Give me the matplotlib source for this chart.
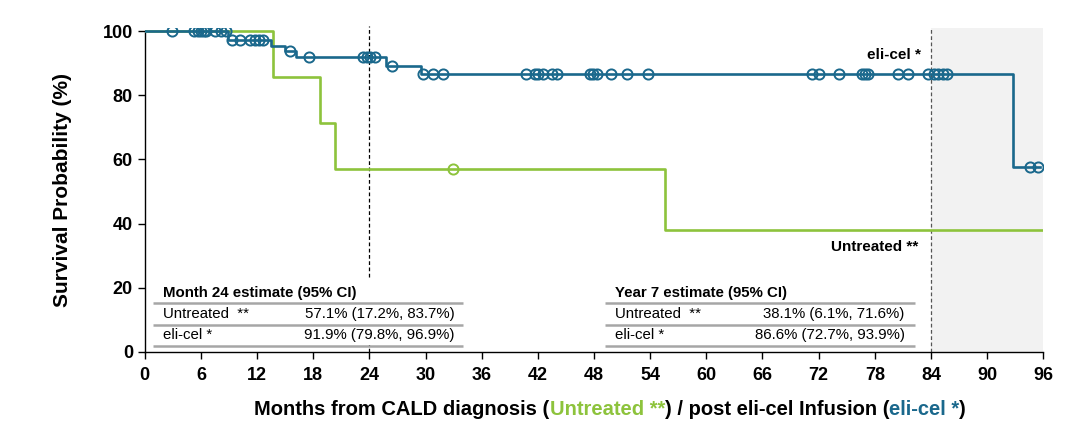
import numpy as np
import matplotlib
matplotlib.use('Agg')
import matplotlib.pyplot as plt
from matplotlib import font_manager
from matplotlib.offsetbox import TextArea, HPacker, AnnotationBbox
from matplotlib.patches import Rectangle

# フォント
names = {f.name for f in font_manager.fontManager.ttflist}
base_font = 'Liberation Sans' if 'Liberation Sans' in names else 'DejaVu Sans'
plt.rcParams['font.family'] = [base_font, 'DejaVu Sans']

blue = '#1a688c'
green = '#8dc33c'

# eli-cel: ステップ（イベント時刻と生存率）
eli_times = [0, 8.9, 13.5, 15.0, 16.2, 25.8, 29.5, 92.8]
eli_surv = [100, 97.3, 95.5, 93.7, 91.9, 89.2, 86.6, 57.7]
eli_end = 95.7
eli_censor = [2.9, 5.3, 5.7, 6.0, 6.3, 6.6, 7.5, 8.2, 8.7,
              9.3, 10.2, 11.2, 11.8, 12.2, 12.6,
              15.5, 17.6, 23.3, 23.7, 24.1, 24.6, 26.4,
              29.7, 30.8, 31.9, 40.7, 41.7, 42.0, 42.6, 43.5, 44.0,
              47.6, 47.9, 48.3, 49.8, 51.5, 53.8,
              71.3, 72.0, 74.2, 76.6, 77.0, 77.3, 80.5, 81.6,
              83.7, 84.3, 84.8, 85.3, 85.7, 94.6, 95.4]

# 未治療
unt_times = [0, 13.7, 18.7, 20.3, 55.6]
unt_surv = [100, 85.7, 71.4, 57.1, 38.1]
unt_end = 96
unt_censor = [32.9]

# 表
tab1_title = 'Month 24 estimate (95% CI)'
tab1_rows = [('Untreated  **', '57.1% (17.2%, 83.7%)'), ('eli-cel *', '91.9% (79.8%, 96.9%)')]
tab2_title = 'Year 7 estimate (95% CI)'
tab2_rows = [('Untreated  **', '38.1% (6.1%, 71.6%)'), ('eli-cel *', '86.6% (72.7%, 93.9%)')]

xticks = np.arange(0, 97, 6)
yticks = np.arange(0, 101, 20)


def surv_at(times, surv, t):
    idx = np.searchsorted(times, t, side='right') - 1
    return np.array(surv)[idx]


fig = plt.figure(figsize=(10.8, 4.23), dpi=100)
ax = fig.add_axes([0.134, 0.168, 0.832, 0.766])
ax.set_xlim(0, 96)
ax.set_ylim(0, 101)

# 84か月以降の灰色領域
ax.axvspan(84, 96, color='#f2f2f2', zorder=0, lw=0)

# 破線
ax.plot([24, 24], [0, 101.5], ls=(0, (3, 2)), color='black', lw=0.9, zorder=1, clip_on=False)
ax.plot([84, 84], [0, 101], ls=(0, (3, 2)), color='#555555', lw=0.9, zorder=1)

# ステップ曲線
ut = list(unt_times) + [unt_end]
us = list(unt_surv) + [unt_surv[-1]]
ax.step(ut, us, where='post', color=green, lw=1.9, zorder=3)
uc = surv_at(unt_times, unt_surv, unt_censor)
ax.plot(unt_censor, uc, 'o', mfc='none', mec=green, mew=1.4, ms=7.3, zorder=4)

et = list(eli_times) + [eli_end]
es = list(eli_surv) + [eli_surv[-1]]
ax.step(et, es, where='post', color=blue, lw=1.9, zorder=5)
ec = surv_at(eli_times, eli_surv, eli_censor)
ax.plot(eli_censor, ec, 'o', mfc='none', mec=blue, mew=1.4, ms=7.3, zorder=6)

# 曲線ラベル
ax.text(82.9, 92.6, 'eli-cel *', fontsize=11, fontweight='bold', ha='right', va='center')
ax.text(82.7, 32.7, 'Untreated **', fontsize=11, fontweight='bold', ha='right', va='center')


def draw_table(x0, x1, xt, xv, title, rows, cover):
    if cover:
        ax.add_patch(Rectangle((x0, 2.2), x1 - x0, 20.5, facecolor='white',
                               edgecolor='none', zorder=2))
    ax.text(xt, 18.5, title, fontsize=10.8, fontweight='bold', ha='left', va='center', zorder=7)
    for yl in [15.4, 8.4, 1.9]:
        ax.plot([x0, x1], [yl, yl], color='#a6a6a6', lw=1.8, zorder=7, solid_capstyle='butt')
    for (lab, val), yr in zip(rows, [11.7, 5.3]):
        ax.text(xt, yr, lab, fontsize=10.8, ha='left', va='center', zorder=7)
        ax.text(xv, yr, val, fontsize=10.8, ha='right', va='center', zorder=7)


draw_table(0.86, 34.0, 1.9, 33.1, tab1_title, tab1_rows, True)
draw_table(49.2, 82.3, 50.2, 81.2, tab2_title, tab2_rows, False)

# 軸
ax.spines['top'].set_visible(False)
ax.spines['right'].set_visible(False)
ax.spines['left'].set_bounds(0, 100)
ax.spines['left'].set_linewidth(1.0)
ax.spines['bottom'].set_linewidth(1.0)
ax.set_xticks(xticks)
ax.set_yticks(yticks)
ax.tick_params(axis='both', direction='out', length=5, width=1.0, labelsize=13)
for lab in ax.get_xticklabels() + ax.get_yticklabels():
    lab.set_fontweight('bold')
ax.tick_params(axis='x', pad=6)
ax.set_ylabel('Survival Probability (%)', fontsize=15, fontweight='bold', labelpad=22)

# 色付きのx軸ラベル
parts = [('Months from CALD diagnosis (', 'black'), ('Untreated **', green),
         (') / post eli-cel Infusion (', 'black'), ('eli-cel *', blue), (')', 'black')]
areas = [TextArea(s, textprops=dict(color=c, fontsize=14.5, fontweight='bold'))
         for s, c in parts]
box = HPacker(children=areas, align='baseline', pad=0, sep=0)
ab = AnnotationBbox(box, (0.565, 0.033), xycoords='figure fraction', frameon=False,
                    box_alignment=(0.5, 0.5))
fig.add_artist(ab)

fig.savefig('out.png', dpi=100)
